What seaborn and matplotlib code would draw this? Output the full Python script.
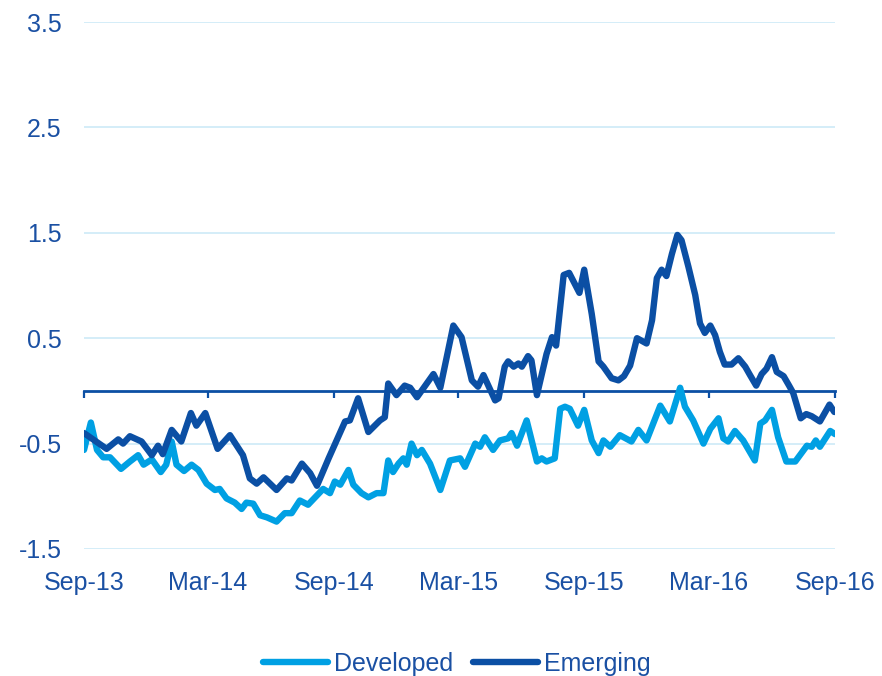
import numpy as np
import pandas as pd
import seaborn as sns
import matplotlib.pyplot as plt
import matplotlib.dates as mdates

# ---------------- data ----------------
START = "2013-09-01"

developed_day = [0, 10, 19, 28, 38, 54, 67, 79, 87, 99, 112, 120, 128, 135, 146, 157, 167,
                 179, 191, 198, 208, 220, 230, 237, 247, 257, 267, 281, 293, 303, 315, 327,
                 349, 359, 366, 374, 386, 393, 405, 415, 427, 437, 444, 451, 459, 466, 471,
                 478, 486, 493, 505, 520, 534, 549, 556, 571, 578, 585, 597, 607, 619, 624,
                 632, 646, 661, 668, 675, 687, 695, 702, 709, 721, 730, 741, 751, 758, 768,
                 782, 799, 809, 821, 841, 855, 870, 877, 889, 904, 914, 926, 933, 940, 950,
                 962, 979, 987, 994, 1004, 1013, 1025, 1038, 1055, 1062, 1068, 1074, 1089, 1096]
developed_val = [-0.56, -0.30, -0.56, -0.63, -0.63, -0.74, -0.67, -0.61, -0.70, -0.65, -0.77,
                 -0.70, -0.48, -0.70, -0.76, -0.70, -0.75, -0.88, -0.94, -0.93, -1.02, -1.06,
                 -1.12, -1.06, -1.07, -1.18, -1.20, -1.24, -1.16, -1.16, -1.04, -1.08, -0.93,
                 -0.97, -0.86, -0.89, -0.75, -0.89, -0.97, -1.01, -0.97, -0.97, -0.66, -0.77,
                 -0.69, -0.64, -0.70, -0.50, -0.61, -0.56, -0.69, -0.94, -0.66, -0.64, -0.72,
                 -0.50, -0.53, -0.44, -0.56, -0.47, -0.45, -0.40, -0.52, -0.28, -0.67, -0.64,
                 -0.67, -0.64, -0.17, -0.15, -0.17, -0.33, -0.18, -0.47, -0.59, -0.47, -0.53,
                 -0.42, -0.48, -0.37, -0.47, -0.14, -0.29, 0.03, -0.15, -0.28, -0.50, -0.36,
                 -0.26, -0.45, -0.48, -0.38, -0.47, -0.66, -0.31, -0.28, -0.18, -0.44, -0.67,
                 -0.67, -0.52, -0.53, -0.47, -0.53, -0.38, -0.41]

emerging_day = [0, 33, 50, 57, 67, 84, 99, 108, 115, 128, 142, 156, 164, 177, 195, 213, 232,
                242, 252, 262, 281, 296, 303, 318, 330, 340, 357, 381, 388, 400, 415, 432, 439,
                444, 456, 468, 476, 486, 498, 510, 520, 539, 551, 566, 575, 583, 600, 605, 614,
                619, 627, 634, 639, 648, 653, 661, 675, 683, 689, 700, 708, 723, 730, 741, 751,
                758, 770, 780, 788, 797, 807, 821, 829, 836, 843, 850, 858, 866, 872, 882, 892,
                899, 906, 914, 921, 928, 935, 945, 955, 965, 972, 981, 989, 996, 1004, 1011,
                1021, 1029, 1035, 1046, 1054, 1062, 1074, 1088, 1095]
emerging_val = [-0.40, -0.55, -0.46, -0.50, -0.43, -0.48, -0.61, -0.52, -0.60, -0.37, -0.48,
                -0.21, -0.33, -0.21, -0.55, -0.42, -0.61, -0.83, -0.88, -0.82, -0.94, -0.83,
                -0.85, -0.69, -0.78, -0.90, -0.64, -0.29, -0.28, -0.07, -0.39, -0.28, -0.25,
                0.07, -0.04, 0.05, 0.03, -0.06, 0.05, 0.16, 0.03, 0.62, 0.51, 0.10, 0.04, 0.15,
                -0.09, -0.07, 0.23, 0.28, 0.23, 0.26, 0.23, 0.33, 0.29, -0.04, 0.35, 0.51, 0.43,
                1.10, 1.12, 0.93, 1.15, 0.73, 0.28, 0.23, 0.12, 0.10, 0.14, 0.24, 0.50, 0.45,
                0.67, 1.07, 1.15, 1.09, 1.30, 1.48, 1.43, 1.18, 0.91, 0.64, 0.55, 0.62, 0.53,
                0.37, 0.25, 0.25, 0.31, 0.23, 0.15, 0.05, 0.16, 0.21, 0.32, 0.18, 0.14, 0.05,
                -0.02, -0.26, -0.22, -0.24, -0.29, -0.13, -0.20]

series_names = ["Developed", "Emerging"]
y_ticks = [-1.5, -0.5, 0.5, 1.5, 2.5, 3.5]
y_tick_labels = ["-1.5", "-0.5", "0.5", "1.5", "2.5", "3.5"]
x_tick_dates = ["2013-09-01", "2014-03-01", "2014-09-01", "2015-03-01",
                "2015-09-01", "2016-03-01", "2016-09-01"]
x_tick_labels = ["Sep-13", "Mar-14", "Sep-14", "Mar-15", "Sep-15", "Mar-16", "Sep-16"]

# ---------------- build table ----------------
start = pd.Timestamp(START)
df = pd.concat([
    pd.DataFrame({"date": start + pd.to_timedelta(developed_day, unit="D"),
                  "value": developed_val, "series": series_names[0]}),
    pd.DataFrame({"date": start + pd.to_timedelta(emerging_day, unit="D"),
                  "value": emerging_val, "series": series_names[1]}),
], ignore_index=True)

# ---------------- style ----------------
LIGHT = "#00a0e3"
DARK = "#0b4fa4"
TEXT = "#1a50a3"
GRID = "#c9e8f6"
FS = 18

sns.set_theme(style="white")
plt.rcParams["font.family"] = ["Liberation Sans", "DejaVu Sans"]

fig = plt.figure(figsize=(8.82, 6.76), dpi=100)
ax = fig.add_axes([84 / 882, 1 - 549 / 676, (835 - 84) / 882, (549 - 22) / 676])

sns.lineplot(data=df, x="date", y="value", hue="series",
             palette={series_names[0]: LIGHT, series_names[1]: DARK},
             hue_order=series_names, estimator=None, linewidth=4.6,
             solid_joinstyle="round", solid_capstyle="round",
             ax=ax, legend=True, zorder=3)

ax.set_ylim(-1.5, 3.5)
ax.set_xlim(pd.Timestamp(x_tick_dates[0]), pd.Timestamp(x_tick_dates[-1]))
ax.set_xlabel("")
ax.set_ylabel("")

# y axis: labels + light gridlines
ax.set_yticks(y_ticks)
ax.set_yticklabels(y_tick_labels)
ax.tick_params(axis="y", length=0, pad=16, labelsize=FS, labelcolor=TEXT)
ax.yaxis.grid(True, color=GRID, linewidth=1.1)
ax.xaxis.grid(False)

for s in ["top", "right", "left"]:
    ax.spines[s].set_visible(False)

# zero line carrying tick marks
xt = [pd.Timestamp(d) for d in x_tick_dates]
ax.spines["bottom"].set_position(("data", 0))
ax.spines["bottom"].set_color(DARK)
ax.spines["bottom"].set_linewidth(2.0)
ax.spines["bottom"].set_zorder(2)
ax.set_xticks(xt)
ax.tick_params(axis="x", direction="out", length=5, width=1.6, color=DARK,
               labelbottom=False, bottom=True)

# date labels at the bottom of the plot area
sec = ax.secondary_xaxis("bottom")
sec.set_xticks(mdates.date2num(xt))
sec.set_xticklabels(x_tick_labels)
sec.tick_params(axis="x", length=0, pad=16, labelsize=FS, labelcolor=TEXT)
sec.spines["bottom"].set_visible(False)

# legend
handles, labels = ax.get_legend_handles_labels()
ax.get_legend().remove()
for h in handles:
    h.set_solid_capstyle("round")
leg = fig.legend(handles, labels, loc="center", bbox_to_anchor=(0.518, 0.018),
                 ncol=2, frameon=False, fontsize=FS, handlelength=2.6,
                 handletextpad=0.25, columnspacing=0.8, borderpad=0)
for t in leg.get_texts():
    t.set_color(TEXT)

fig.savefig("out.png", dpi=100)
